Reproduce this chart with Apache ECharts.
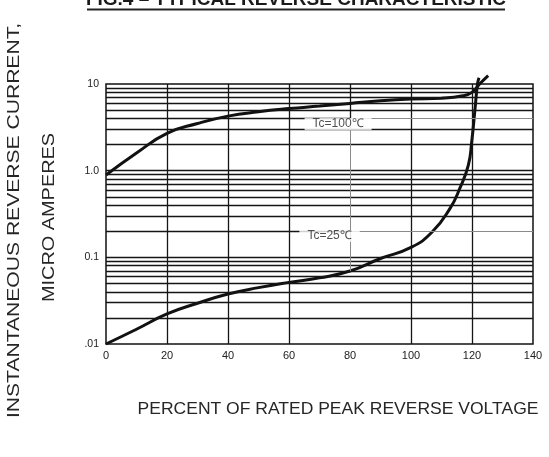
<!DOCTYPE html>
<html>
<head>
<meta charset="utf-8">
<script src="https://cdn.jsdelivr.net/npm/echarts@6/dist/echarts.min.js"></script>
<style>
html,body{margin:0;padding:0;background:#fff;}
#chart{width:549px;height:457px;}
</style>
</head>
<body>
<div id="chart"></div>
<script>
// ---- data ----
const xTicks = [0, 20, 40, 60, 80, 100, 120, 140];
const yTickValues = [0.01, 0.1, 1, 10];
const yTickLabels = ['.01', '0.1', '1.0', '10'];

const tc25X = [0, 10, 20, 30, 40, 50, 60, 70, 80, 90, 100, 107, 112.8, 116, 118.8, 119.9, 121, 121.8, 122.3];
const tc25Y = [0.01, 0.0148, 0.0222, 0.0295, 0.0377, 0.0447, 0.0514, 0.058, 0.0695, 0.097, 0.13, 0.197, 0.367, 0.625, 1.16, 2.15, 5.2, 10, 11.8];

const tc100X = [0, 10, 20, 30, 40, 50, 60, 70, 80, 90, 100, 110, 117, 120, 122.5, 125.3];
const tc100Y = [0.89, 1.6, 2.69, 3.5, 4.26, 4.78, 5.2, 5.56, 5.97, 6.4, 6.7, 6.85, 7.3, 8.0, 10, 12.5];

const labelTexts = ['Tc=100\u2103', 'Tc=25\u2103'];
const labelX = [76.1, 73.3];
const labelY = [3.45, 0.176];

const decadeStarts = [0.01, 0.1, 1];
const minorMultipliers = [2, 3, 4, 5, 6, 7, 8, 9];
const vGridX = [20, 40, 60, 100, 120];

const titleText = 'FIG.4 \u2013 TYPICAL REVERSE CHARACTERISTIC';
const yName1 = 'INSTANTANEOUS REVERSE CURRENT,';
const yName2 = 'MICRO AMPERES';
const xName = 'PERCENT OF RATED PEAK REVERSE VOLTAGE';

// ---- build grid lines ----
const BLACK = {color: '#151515', width: 1.3, type: 'solid'};
const GRAY = {color: '#8a8a8a', width: 1, type: 'solid'};
const gridLines = [];
vGridX.forEach(v => gridLines.push({xAxis: v, lineStyle: BLACK}));
const hVals = [];
decadeStarts.forEach((d, i) => {
  if (i > 0) hVals.push(d);
  minorMultipliers.forEach(m => hVals.push(+(d * m).toPrecision(3)));
});
const splitVals = [4, 0.2]; // lines that carry the labels
hVals.forEach(v => {
  if (splitVals.includes(v)) {
    gridLines.push([{coord: [0, v], lineStyle: BLACK}, {coord: [80, v]}]);
    gridLines.push([{coord: [80, v], lineStyle: GRAY}, {coord: [140, v]}]);
  } else {
    gridLines.push({yAxis: v, lineStyle: BLACK});
  }
});
// x = 80: dark above the upper label, thin leader below down to the 25C curve
gridLines.push([{coord: [80, 10], lineStyle: BLACK}, {coord: [80, 4]}]);
gridLines.push([{coord: [80, 3.2], lineStyle: GRAY}, {coord: [80, tc25Y[tc25X.indexOf(80)]]}]);

const chart = echarts.init(document.getElementById('chart'), null, {renderer: 'canvas'});
const FONT = 'Liberation Sans, Arial, sans-serif';

chart.setOption({
  animation: false,
  backgroundColor: '#ffffff',
  grid: {left: 106, right: 16, top: 84, bottom: 113, show: true, borderColor: '#111', borderWidth: 1.5, backgroundColor: 'transparent'},
  xAxis: {
    type: 'value', min: xTicks[0], max: xTicks[xTicks.length - 1], interval: 20,
    axisLine: {show: false}, axisTick: {show: false}, splitLine: {show: false},
    axisLabel: {color: '#222', fontSize: 11, fontFamily: FONT, margin: 6}
  },
  yAxis: {
    type: 'log', logBase: 10, min: yTickValues[0], max: yTickValues[yTickValues.length - 1],
    axisLine: {show: false}, axisTick: {show: false}, splitLine: {show: false},
    axisLabel: {
      color: '#222', fontSize: 10.5, fontFamily: FONT, margin: 7,
      formatter: function (v) {
        for (let i = 0; i < yTickValues.length; i++) {
          if (Math.abs(Math.log10(v) - Math.log10(yTickValues[i])) < 1e-6) return yTickLabels[i];
        }
        return '';
      }
    }
  },
  graphic: [
    {type: 'text', x: 296, y: -0.5, z: 10,
     style: {text: titleText, font: 'bold 19px Liberation Sans Narrow, Liberation Sans, Arial, sans-serif', fill: '#1a1a1a', align: 'center', verticalAlign: 'middle'}},
    {type: 'line', z: 10, shape: {x1: 87, y1: 9.5, x2: 505, y2: 9.5}, style: {stroke: '#222', lineWidth: 2}},
    {type: 'text', x: 14.5, y: 220.5, rotation: Math.PI / 2, scaleX: 1.24, z: 10,
     style: {text: yName1, font: '17px Liberation Sans, Arial, sans-serif', fill: '#262626', align: 'center', verticalAlign: 'middle'}},
    {type: 'text', x: 49, y: 217.5, rotation: Math.PI / 2, scaleX: 1.17, z: 10,
     style: {text: yName2, font: '17px Liberation Sans, Arial, sans-serif', fill: '#262626', align: 'center', verticalAlign: 'middle'}},
    {type: 'text', x: 338, y: 409, scaleX: 1.03, z: 10,
     style: {text: xName, font: '17px Liberation Sans, Arial, sans-serif', fill: '#262626', align: 'center', verticalAlign: 'middle'}}
  ],
  series: [
    {
      type: 'line', data: [], z: 1, silent: true,
      markLine: {silent: true, symbol: ['none', 'none'], label: {show: false}, animation: false, data: gridLines}
    },
    {
      name: 'Tc=25', type: 'line', z: 3, clip: false, smooth: 0.5, showSymbol: false,
      lineStyle: {color: '#111', width: 3}, data: tc25X.map((x, i) => [x, tc25Y[i]])
    },
    {
      name: 'Tc=100', type: 'line', z: 3, clip: false, smooth: 0.5, showSymbol: false,
      lineStyle: {color: '#111', width: 3}, data: tc100X.map((x, i) => [x, tc100Y[i]])
    },
    {
      type: 'scatter', z: 10, symbolSize: 0, silent: true,
      data: labelTexts.map((t, i) => ({name: t, value: [labelX[i], labelY[i]]})),
      label: {
        show: true, position: 'inside', formatter: p => p.name,
        color: '#222', fontSize: 12, fontFamily: FONT,
        backgroundColor: '#ffffff', padding: [0, 8]
      }
    }
  ]
});
</script>
</body>
</html>
